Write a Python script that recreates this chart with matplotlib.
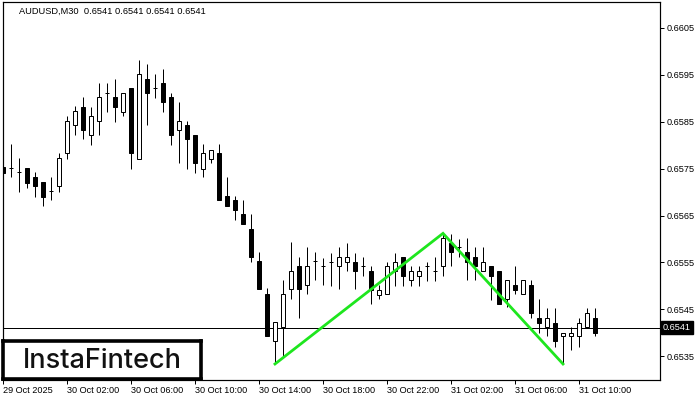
import matplotlib
matplotlib.use("Agg")
import matplotlib.pyplot as plt
from matplotlib.patches import Rectangle
import numpy as np

# ---- data ----
opens = [0.65754, 0.65751, 0.65742, 0.65751, 0.65732, 0.65722, 0.65703, 0.65712, 0.65782, 0.65842,
         0.65881, 0.65821, 0.65851, 0.65910, 0.65902, 0.65871, 0.65921, 0.65771, 0.65941, 0.65921,
         0.65932, 0.65902, 0.65831, 0.65842, 0.65821, 0.65750, 0.65771, 0.65783, 0.65692, 0.65683,
         0.65654, 0.65621, 0.65554, 0.65483, 0.65382, 0.65413, 0.65493, 0.65543, 0.65503, 0.65554,
         0.65542, 0.65552, 0.65542, 0.65552, 0.65552, 0.65542, 0.65532, 0.65481, 0.65483, 0.65532,
         0.65561, 0.65512, 0.65522, 0.65542, 0.65532, 0.65542, 0.65591, 0.65583, 0.65572, 0.65561,
         0.65531, 0.65542, 0.65532, 0.65472, 0.65502, 0.65483, 0.65502, 0.65432, 0.65413, 0.65422,
         0.65393, 0.65393, 0.65393, 0.65413, 0.65432]
highs = [0.65773, 0.65803, 0.65772, 0.65751, 0.65742, 0.65722, 0.65732, 0.65783, 0.65862, 0.65882,
         0.65902, 0.65881, 0.65932, 0.65932, 0.65941, 0.65910, 0.65921, 0.65981, 0.65973, 0.65951,
         0.65962, 0.65910, 0.65891, 0.65851, 0.65821, 0.65802, 0.65790, 0.65803, 0.65733, 0.65692,
         0.65683, 0.65654, 0.65573, 0.65495, 0.65423, 0.65513, 0.65593, 0.65562, 0.65583, 0.65573,
         0.65559, 0.65571, 0.65582, 0.65591, 0.65571, 0.65561, 0.65542, 0.65503, 0.65552, 0.65571,
         0.65561, 0.65542, 0.65542, 0.65552, 0.65561, 0.65612, 0.65611, 0.65600, 0.65602, 0.65583,
         0.65583, 0.65542, 0.65532, 0.65512, 0.65542, 0.65512, 0.65512, 0.65472, 0.65453, 0.65453,
         0.65401, 0.65413, 0.65432, 0.65453, 0.65453]
lows = [0.65662, 0.65732, 0.65701, 0.65709, 0.65690, 0.65671, 0.65682, 0.65701, 0.65771, 0.65821,
        0.65812, 0.65801, 0.65821, 0.65871, 0.65850, 0.65861, 0.65750, 0.65771, 0.65842, 0.65901,
        0.65871, 0.65801, 0.65761, 0.65750, 0.65741, 0.65731, 0.65761, 0.65682, 0.65671, 0.65641,
        0.65631, 0.65552, 0.65493, 0.65393, 0.65334, 0.65352, 0.65472, 0.65432, 0.65483, 0.65513,
        0.65503, 0.65501, 0.65493, 0.65532, 0.65493, 0.65522, 0.65461, 0.65472, 0.65483, 0.65501,
        0.65501, 0.65501, 0.65501, 0.65511, 0.65511, 0.65522, 0.65542, 0.65561, 0.65512, 0.65512,
        0.65531, 0.65471, 0.65461, 0.65455, 0.65483, 0.65483, 0.65432, 0.65401, 0.65393, 0.65371,
        0.65334, 0.65363, 0.65371, 0.65413, 0.65393]
closes = [0.65741, 0.65751, 0.65742, 0.65720, 0.65712, 0.65690, 0.65703, 0.65772, 0.65851, 0.65872,
          0.65831, 0.65861, 0.65902, 0.65910, 0.65881, 0.65910, 0.65782, 0.65951, 0.65910, 0.65921,
          0.65891, 0.65821, 0.65851, 0.65812, 0.65761, 0.65782, 0.65790, 0.65682, 0.65671, 0.65661,
          0.65631, 0.65561, 0.65493, 0.65393, 0.65423, 0.65483, 0.65532, 0.65493, 0.65543, 0.65554,
          0.65542, 0.65552, 0.65561, 0.65561, 0.65531, 0.65542, 0.65492, 0.65492, 0.65542, 0.65552,
          0.65522, 0.65532, 0.65532, 0.65542, 0.65532, 0.65602, 0.65572, 0.65583, 0.65552, 0.65542,
          0.65552, 0.65522, 0.65461, 0.65512, 0.65492, 0.65512, 0.65442, 0.65422, 0.65432, 0.65382,
          0.65401, 0.65401, 0.65422, 0.65442, 0.65401]

x_tick_bars = [0, 8, 16, 24, 32, 40, 48, 56, 64, 72]
x_tick_labels = ["29 Oct 2025", "30 Oct 02:00", "30 Oct 06:00", "30 Oct 10:00",
                 "30 Oct 14:00", "30 Oct 18:00", "30 Oct 22:00", "31 Oct 02:00",
                 "31 Oct 06:00", "31 Oct 10:00"]
y_ticks = [0.6535, 0.6545, 0.6555, 0.6565, 0.6575, 0.6585, 0.6595, 0.6605]
last_price = 0.6541
title_text = "AUDUSD,M30  0.6541 0.6541 0.6541 0.6541"
pattern_bars = [34, 55, 70]          # double-top pattern anchors
pattern_kind = ["low", "high", "low"]

# ---- figure ----
W, H = 700, 400
fig = plt.figure(figsize=(W / 100, H / 100), dpi=100)
fig.patch.set_facecolor("white")
ax_left, ax_right, ax_top, ax_bot = 2.5, 659.5, 1.7, 379.5
ax = fig.add_axes([ax_left / W, 1 - ax_bot / H, (ax_right - ax_left) / W, (ax_bot - ax_top) / H])
ax.set_facecolor("white")

n = len(opens)
px = 1 / 1.3889  # one pixel in points
body_w = 0.5
for i in range(n):
    o, h, l, c = opens[i], highs[i], lows[i], closes[i]
    ax.vlines(i, l, h, color="black", lw=px, zorder=2)
    if o == c:
        ax.hlines(o, i - 0.3, i + 0.3, color="black", lw=px, zorder=3)
    else:
        fc = "black" if c < o else "white"
        ax.add_patch(Rectangle((i - body_w / 2, min(o, c)), body_w, abs(c - o),
                               facecolor=fc, edgecolor="black", lw=px, zorder=3))

# current price line
ax.axhline(last_price, color="black", lw=px, zorder=1)

# pattern line
py = [lows[b] if k == "low" else highs[b] for b, k in zip(pattern_bars, pattern_kind)]
ax.plot(pattern_bars, py, color="#1ee61e", lw=2.0, zorder=4, solid_joinstyle="miter")

ax.set_xlim(-0.06, 82.06)
ax.set_ylim(0.65301, 0.66105)

for s in ax.spines.values():
    s.set_color("black")
    s.set_linewidth(1.2 * px)

fam = ["Liberation Sans", "DejaVu Sans"]
ax.yaxis.tick_right()
ax.set_yticks(y_ticks)
ax.set_yticklabels([f"{v:.4f}" for v in y_ticks], fontsize=6.6, family=fam, color="black")
ax.tick_params(axis="y", length=3.0, width=px, pad=1.8, direction="out")
ax.set_xticks(x_tick_bars)
ax.set_xticklabels(x_tick_labels, fontsize=6.6, family=fam, color="black", ha="left")
ax.tick_params(axis="x", length=3.0, width=px, pad=1.5, direction="out")

# header text
ax.text((19 - ax_left) / (ax_right - ax_left), 1 - (11 - ax_top) / (ax_bot - ax_top), title_text,
        transform=ax.transAxes, fontsize=6.65, family=fam, va="center", ha="left", color="black")

# current price label box on the right axis
fig.text(663 / W, 1 - 327.3 / H, "0.6541", fontsize=6.6, family=fam, color="white",
         va="center", ha="left",
         bbox=dict(boxstyle="square,pad=0.25", facecolor="black", edgecolor="black"))

# logo box
logo_ax = fig.add_axes([3 / W, 1 - 379 / H, (201 - 3) / W, (379 - 341) / H])
logo_ax.set_xticks([]); logo_ax.set_yticks([])
logo_ax.set_facecolor("white")
for s in logo_ax.spines.values():
    s.set_linewidth(2.6)
    s.set_color("black")
logo_ax.text(0.5, 0.47, "InstaFintech", ha="center", va="center", fontsize=19.5,
             fontweight="medium", family=["Inter", "Lato", "DejaVu Sans"], color="#111111",
             transform=logo_ax.transAxes)

fig.savefig("out.png", dpi=100, facecolor="white")
